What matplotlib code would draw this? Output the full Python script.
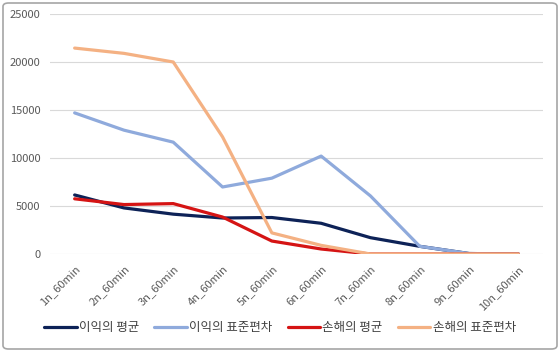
import matplotlib
matplotlib.use("Agg")
import matplotlib.pyplot as plt
from matplotlib.patches import FancyBboxPatch

plt.rcParams['font.family'] = ['Noto Sans CJK KR', 'DejaVu Sans']

categories = ["1n_60min", "2n_60min", "3n_60min", "4n_60min", "5n_60min",
              "6n_60min", "7n_60min", "8n_60min", "9n_60min", "10n_60min"]
profit_mean = [6150, 4800, 4150, 3750, 3800, 3200, 1700, 800, 50, 0]
profit_std = [14700, 12900, 11650, 6980, 7900, 10200, 6050, 800, 50, 0]
loss_mean = [5750, 5150, 5250, 3850, 1350, 520, 0, 0, 0, 0]
loss_std = [21450, 20900, 20000, 12200, 2200, 900, 0, 0, 0, 0]
series_names = ["이익의 평균", "이익의 표준편차", "손해의 평균", "손해의 표준편차"]
colors = ["#0D2257", "#8FAADC", "#D51414", "#F4B183"]

fig = plt.figure(figsize=(5.6, 3.52), dpi=100)
ax = fig.add_axes([50/560, 1-254/352, 493/560, 240/352])

x = list(range(len(categories)))
for vals, name, c in zip([profit_mean, profit_std, loss_mean, loss_std], series_names, colors):
    ax.plot(x, vals, color=c, lw=2.3, label=name, solid_capstyle='round', solid_joinstyle='round')

ax.set_xlim(-0.5, len(categories) - 0.5)
ax.set_ylim(0, 25000)
ax.set_yticks(range(0, 25001, 5000))
ax.grid(axis='y', color='#D9D9D9', lw=0.8)
ax.set_axisbelow(True)
for s in ax.spines.values():
    s.set_visible(False)
ax.tick_params(length=0, colors='#595959', labelsize=8)
ax.tick_params(axis='y', pad=7)
ax.set_xticks(x)
ax.set_xticklabels(categories, rotation=45, ha='right', rotation_mode='anchor')
ax.tick_params(axis='x', pad=7)

leg = fig.legend(loc='center', bbox_to_anchor=(0.5, 1-328/352), ncol=4, frameon=False,
                 fontsize=9, handlelength=2.6, columnspacing=1.2, handletextpad=0.2)
for t in leg.get_texts():
    t.set_color('#404040')

border = FancyBboxPatch((3/560, 3/352), 554/560, 346/352, boxstyle="round,pad=0,rounding_size=0.01",
                        transform=fig.transFigure, fill=False, ec='#A6A6A6', lw=1.2)
fig.add_artist(border)

fig.savefig("out.png", dpi=100)
